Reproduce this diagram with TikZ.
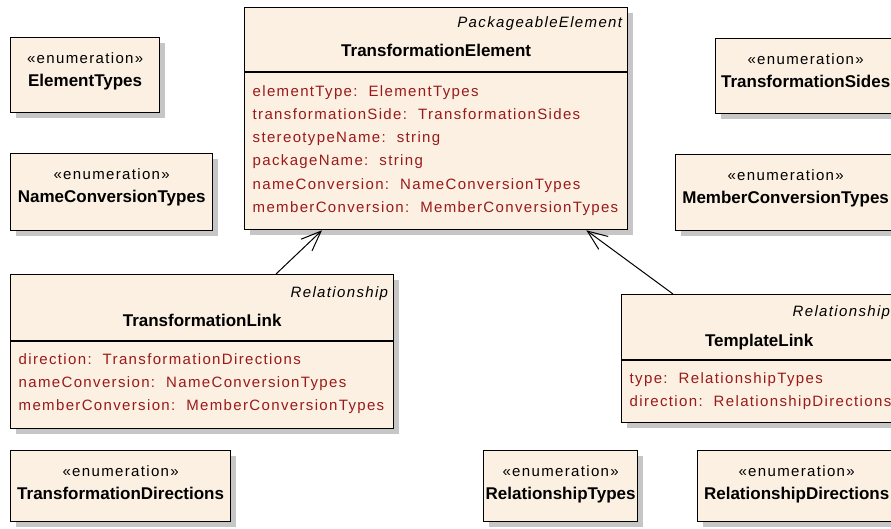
\documentclass[tikz,border=0pt]{standalone}
\usepackage{fontspec}
\setmainfont{Liberation Sans}
\newfontfamily\umlfont[LetterSpace=9]{Liberation Sans}
\usepackage{tikz}
\usetikzlibrary{arrows.meta,calc,positioning,shadows}
\definecolor{UML_Fill}{HTML}{FBF0E2}
\definecolor{UML_Shadow}{HTML}{C6C6C6}
\definecolor{UML_Attr}{HTML}{9A1A1A}

\tikzset{
  umlbox/.style={draw=black, line width=1.3pt, fill=UML_Fill, anchor=north west, inner sep=0pt,
    drop shadow={shadow xshift=5pt, shadow yshift=-5pt, fill=UML_Shadow, opacity=1}},
  stereo/.style={font=\umlfont\fontsize{15}{17}\selectfont, inner sep=0pt, anchor=base},
  absname/.style={font=\umlfont\itshape\fontsize{15}{17}\selectfont, inner sep=0pt, anchor=base east},
  classname/.style={font=\bfseries\fontsize{17}{20}\selectfont, inner sep=0pt, anchor=base},
  attrs/.style={font=\umlfont\fontsize{15}{23.3}\selectfont, text=UML_Attr, align=left, anchor=north west, inner sep=0pt},
  navarrow/.style={line width=1pt, -{Straight Barb[length=20pt,width=16pt]}}
}

\begin{document}
\begin{tikzpicture}[x=1pt, y=-1pt]
    \useasboundingbox (0,0) rectangle (891,529);
    \fill[white] (0,0) rectangle (891,529);
    \clip (0,0) rectangle (891,529);

    % TransformationElement class
    \node[umlbox, minimum width=383pt, minimum height=222pt] (te) at (244,7) {};
    \draw[line width=1.3pt] ([yshift=-65pt]te.north west) -- ([yshift=-65pt]te.north east);
    \node[absname] (teStereo) at ([xshift=-6pt, yshift=-21pt]te.north east) {PackageableElement};
    \node[classname] (teName) at ([yshift=-50pt]te.north) {TransformationElement};
    \node[attrs] (teAttrs) at ([xshift=8.5pt, yshift=-78pt]te.north west) {%
        elementType:\ \ ElementTypes\\
        transformationSide:\ \ TransformationSides\\
        stereotypeName:\ \ string\\
        packageName:\ \ string\\
        nameConversion:\ \ NameConversionTypes\\
        memberConversion:\ \ MemberConversionTypes};

    % TransformationLink class
    \node[umlbox, minimum width=383pt, minimum height=154pt] (tl) at (10,274) {};
    \draw[line width=1.3pt] ([yshift=-67pt]tl.north west) -- ([yshift=-67pt]tl.north east);
    \node[absname] (tlStereo) at ([xshift=-6pt, yshift=-23pt]tl.north east) {Relationship};
    \node[classname] (tlName) at ([yshift=-52pt]tl.north) {TransformationLink};
    \node[attrs] (tlAttrs) at ([xshift=8.5pt, yshift=-79pt]tl.north west) {%
        direction:\ \ TransformationDirections\\
        nameConversion:\ \ NameConversionTypes\\
        memberConversion:\ \ MemberConversionTypes};

    % TemplateLink class
    \node[umlbox, minimum width=275pt, minimum height=128pt] (tpl) at (621,294) {};
    \draw[line width=1.3pt] ([yshift=-66pt]tpl.north west) -- ([yshift=-66pt]tpl.north east);
    \node[absname] (tplStereo) at ([xshift=-7pt, yshift=-22pt]tpl.north east) {Relationship};
    \node[classname] (tplName) at ([yshift=-52pt]tpl.north) {TemplateLink};
    \node[attrs] (tplAttrs) at ([xshift=8.5pt, yshift=-78pt]tpl.north west) {%
        type:\ \ RelationshipTypes\\
        direction:\ \ RelationshipDirections};

    % Enumerations
    \node[umlbox, minimum width=149pt, minimum height=75pt] (et) at (10,37) {};
    \node[stereo] (etStereo) at ([yshift=-27pt]et.north) {«enumeration»};
    \node[classname] (etName) at ([yshift=-49.5pt]et.north) {ElementTypes};

    \node[umlbox, minimum width=180pt, minimum height=75pt] (ts) at (715,38) {};
    \node[stereo] (tsStereo) at ([yshift=-27pt]ts.north) {«enumeration»};
    \node[classname] (tsName) at ([yshift=-49.5pt]ts.north) {TransformationSides};

    \node[umlbox, minimum width=202pt, minimum height=77pt] (nct) at (10,153) {};
    \node[stereo] (nctStereo) at ([yshift=-27pt]nct.north) {«enumeration»};
    \node[classname] (nctName) at ([yshift=-49.5pt]nct.north) {NameConversionTypes};

    \node[umlbox, minimum width=220pt, minimum height=76pt] (mct) at (675,154) {};
    \node[stereo] (mctStereo) at ([yshift=-27pt]mct.north) {«enumeration»};
    \node[classname] (mctName) at ([yshift=-49.5pt]mct.north) {MemberConversionTypes};

    \node[umlbox, minimum width=220pt, minimum height=71pt] (tdir) at (10,450) {};
    \node[stereo] (tdirStereo) at ([yshift=-26pt]tdir.north) {«enumeration»};
    \node[classname] (tdirName) at ([yshift=-49pt]tdir.north) {TransformationDirections};

    \node[umlbox, minimum width=154pt, minimum height=71pt] (rt) at (483,450) {};
    \node[stereo] (rtStereo) at ([yshift=-26pt]rt.north) {«enumeration»};
    \node[classname] (rtName) at ([yshift=-49pt]rt.north) {RelationshipTypes};

    \node[umlbox, minimum width=198pt, minimum height=71pt] (rd) at (697,450) {};
    \node[stereo] (rdStereo) at ([yshift=-26pt]rd.north) {«enumeration»};
    \node[classname] (rdName) at ([yshift=-49pt]rd.north) {RelationshipDirections};

    % Navigable associations to TransformationElement
    \coordinate (tlTop) at ([xshift=266pt]tl.north west);
    \coordinate (teLeft) at ([xshift=78pt]te.south west);
    \draw[navarrow] (tlTop) -- (teLeft);
    \coordinate (tplTop) at ([xshift=52pt]tpl.north west);
    \coordinate (teRight) at ([xshift=-42pt]te.south east);
    \draw[navarrow] (tplTop) -- (teRight);
\end{tikzpicture}
\end{document}
